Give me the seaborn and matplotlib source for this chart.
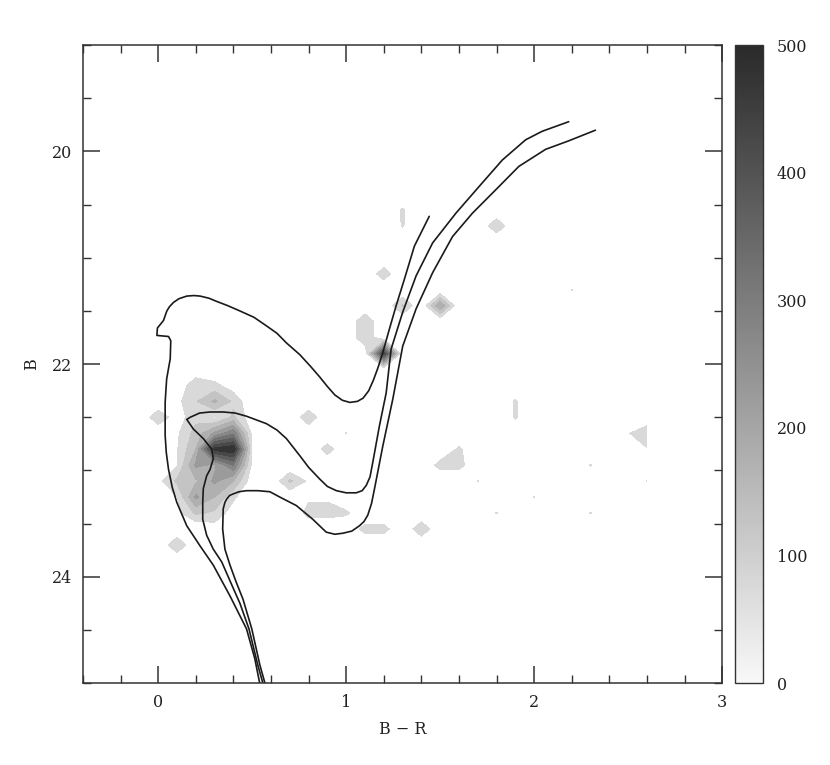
import matplotlib
matplotlib.use("Agg")
import matplotlib.pyplot as plt
import numpy as np
import seaborn as sns
from matplotlib.cm import ScalarMappable
from matplotlib.colors import LinearSegmentedColormap, Normalize
from matplotlib.ticker import MultipleLocator

# Hess diagram: occupied (B-R, B) bins and their counts
hess_color = [0.2, 0.3, 0.4,
              0.1, 0.2, 0.3, 0.4,
              0.0, 0.1, 0.2, 0.3, 0.4, 0.5,
              0.1, 0.2, 0.3, 0.4, 0.5,
              0.1, 0.2, 0.3, 0.4, 0.5,
              0.0, 0.1, 0.2, 0.3, 0.4, 0.5,
              0.0, 0.1, 0.2, 0.3, 0.4, 0.5,
              0.1, 0.2, 0.3, 0.4,
              0.1, 0.2, 0.3, 0.4,
              0.3, 0.1,
              0.8, 0.9, 1.0, 0.7, 0.8, 0.8, 0.9, 0.8, 0.9, 1.0,
              1.1, 1.2, 1.4, 1.5, 1.6, 1.6, 1.9, 1.9,
              2.6, 2.5, 2.6,
              2.3, 2.6, 2.0, 1.8, 2.3, 1.7, 2.2,
              1.8, 1.3, 1.3, 1.2, 1.3, 1.5, 1.1, 1.1, 1.2]
hess_mag = [22.20, 22.20, 22.20,
            22.35, 22.35, 22.35, 22.35,
            22.50, 22.50, 22.50, 22.50, 22.50, 22.50,
            22.65, 22.65, 22.65, 22.65, 22.65,
            22.80, 22.80, 22.80, 22.80, 22.80,
            22.95, 22.95, 22.95, 22.95, 22.95, 22.95,
            23.10, 23.10, 23.10, 23.10, 23.10, 23.10,
            23.25, 23.25, 23.25, 23.25,
            23.40, 23.40, 23.40, 23.40,
            23.55, 23.70,
            22.50, 22.80, 22.65, 23.10, 23.10, 23.25, 23.25, 23.40, 23.40, 23.40,
            23.55, 23.55, 23.55, 22.95, 22.95, 22.80, 22.35, 22.50,
            22.65, 22.65, 22.80,
            22.95, 23.10, 23.25, 23.40, 23.40, 23.10, 21.30,
            20.70, 20.55, 20.70, 21.15, 21.45, 21.45, 21.60, 21.75, 21.90]
hess_count = [95, 65, 20,
              35, 95, 160, 90,
              90, 20, 85, 40, 110, 10,
              40, 120, 210, 290, 35,
              45, 150, 470, 495, 40,
              20, 45, 210, 190, 300, 35,
              30, 110, 140, 210, 150, 15,
              48, 210, 150, 60,
              30, 110, 90, 20,
              20, 95,
              90, 75, 52, 110, 40, 40, 40, 70, 72, 60,
              70, 70, 90, 70, 70, 60, 56, 56,
              95, 45, 45,
              53, 52, 52, 52, 53, 52, 52,
              90, 56, 54, 80, 105, 200, 95, 95, 440]

# isochrones
iso1_color = [0.54, 0.514, 0.47, 0.382, 0.293, 0.223, 0.152, 0.099, 0.075, 0.055,
              0.043, 0.037, 0.037, 0.045, 0.064, 0.067, 0.055, -0.007, -0.004, 0.028,
              0.046, 0.06, 0.081, 0.11, 0.152, 0.19, 0.223, 0.27, 0.311, 0.37,
              0.435, 0.51, 0.576, 0.632, 0.682, 0.753, 0.81, 0.859, 0.90, 0.94,
              0.98, 1.02, 1.06, 1.09, 1.12, 1.145, 1.17, 1.195, 1.23, 1.266,
              1.31, 1.363, 1.442]
iso1_mag = [25.0, 24.77, 24.49, 24.18, 23.89, 23.71, 23.52, 23.30, 23.16, 22.99,
            22.83, 22.67, 22.36, 22.14, 21.95, 21.78, 21.74, 21.73, 21.66, 21.59,
            21.50, 21.46, 21.42, 21.385, 21.36, 21.355, 21.36, 21.38, 21.41, 21.45,
            21.50, 21.56, 21.64, 21.71, 21.80, 21.91, 22.02, 22.12, 22.21, 22.29,
            22.34, 22.36, 22.35, 22.32, 22.25, 22.15, 22.03, 21.89, 21.67, 21.45,
            21.20, 20.89, 20.61]

iso2_color = [0.557, 0.53, 0.483, 0.435, 0.385, 0.338, 0.293, 0.258, 0.237, 0.237,
              0.24, 0.258, 0.276, 0.293, 0.285, 0.24, 0.187, 0.152, 0.17, 0.22,
              0.276, 0.346, 0.41, 0.47, 0.576, 0.632, 0.682, 0.753, 0.80, 0.859,
              0.90, 0.948, 1.00, 1.054, 1.085, 1.107, 1.127, 1.142, 1.177, 1.213,
              1.239, 1.301, 1.372, 1.46, 1.584, 1.707, 1.831, 1.955, 2.043, 2.184]
iso2_mag = [25.0, 24.83, 24.49, 24.25, 24.05, 23.86, 23.74, 23.61, 23.46, 23.30,
            23.17, 23.05, 22.99, 22.89, 22.80, 22.70, 22.61, 22.52, 22.50, 22.46,
            22.45, 22.45, 22.46, 22.49, 22.56, 22.62, 22.70, 22.86, 22.97, 23.08,
            23.15, 23.19, 23.21, 23.21, 23.19, 23.14, 23.06, 22.92, 22.58, 22.27,
            21.86, 21.51, 21.17, 20.86, 20.58, 20.33, 20.08, 19.89, 19.81, 19.72]

iso3_color = [0.568, 0.541, 0.498, 0.451, 0.415, 0.382, 0.355, 0.343, 0.346, 0.355,
              0.364, 0.38, 0.399, 0.43, 0.47, 0.53, 0.594, 0.647, 0.735, 0.823,
              0.894, 0.94, 0.983, 1.03, 1.071, 1.095, 1.115, 1.135, 1.151, 1.195,
              1.248, 1.301, 1.372, 1.46, 1.566, 1.672, 1.796, 1.919, 2.061, 2.184,
              2.326]
iso3_mag = [25.0, 24.83, 24.49, 24.21, 24.05, 23.89, 23.74, 23.55, 23.36, 23.30,
            23.27, 23.235, 23.22, 23.20, 23.19, 23.19, 23.20, 23.25, 23.33, 23.46,
            23.58, 23.60, 23.59, 23.57, 23.52, 23.48, 23.42, 23.31, 23.17, 22.77,
            22.33, 21.83, 21.48, 21.14, 20.80, 20.58, 20.36, 20.14, 19.98, 19.90,
            19.80]

cbar_ticks = [0, 100, 200, 300, 400, 500]

sns.set_theme(style="ticks")
plt.rcParams["font.family"] = ["DejaVu Serif"]
plt.rcParams["axes.edgecolor"] = "#333333"
plt.rcParams["axes.linewidth"] = 1.1

fig = plt.figure(figsize=(8.3, 7.65), dpi=100)
ax = fig.add_axes([0.1, 0.107, 0.77, 0.834])
cax = fig.add_axes([0.8855, 0.107, 0.0337, 0.834])

# bin grid of the Hess diagram
bin_x = np.round(np.arange(-0.4, 2.65, 0.1), 2)
bin_y = np.round(19.05 + 0.15 * np.arange(41), 2)
counts = np.zeros((len(bin_y), len(bin_x)))
for c, m, n in zip(hess_color, hess_mag, hess_count):
    counts[int(round((m - bin_y[0]) / 0.15)), int(round((c - bin_x[0]) / 0.1))] += n

grey = LinearSegmentedColormap.from_list("hess", ["#f8f8f8", "#2a2a2a"])
norm = Normalize(0, 500)
ax.contourf(bin_x, bin_y, counts, levels=np.arange(50, 501, 50), cmap=grey, norm=norm)

for xs, ys in [(iso1_color, iso1_mag), (iso2_color, iso2_mag), (iso3_color, iso3_mag)]:
    sns.lineplot(x=xs, y=ys, sort=False, estimator=None, color="#1a1a1a", lw=1.2, ax=ax)

ax.set_xlim(-0.4, 3.0)
ax.set_ylim(25, 19)
ax.xaxis.set_major_locator(MultipleLocator(1))
ax.xaxis.set_minor_locator(MultipleLocator(0.2))
ax.yaxis.set_major_locator(MultipleLocator(2))
ax.yaxis.set_minor_locator(MultipleLocator(0.5))
ax.tick_params(which="both", direction="in", top=True, right=True, color="#333333",
               labelsize=11.5, labelcolor="#222222", pad=8)
ax.tick_params(which="major", length=12, width=1.1)
ax.tick_params(which="minor", length=6, width=1.0)
ax.set_xlabel("B − R", fontsize=11.5, color="#222222", labelpad=7)
ax.set_ylabel("B", fontsize=11.5, color="#222222", labelpad=8)

cb = fig.colorbar(ScalarMappable(norm=norm, cmap=grey), cax=cax, ticks=cbar_ticks)
cb.outline.set_edgecolor("#333333")
cb.outline.set_linewidth(1.0)
cax.tick_params(length=0, labelsize=11.5, labelcolor="#222222", pad=10)

fig.savefig("out.png", dpi=100)
